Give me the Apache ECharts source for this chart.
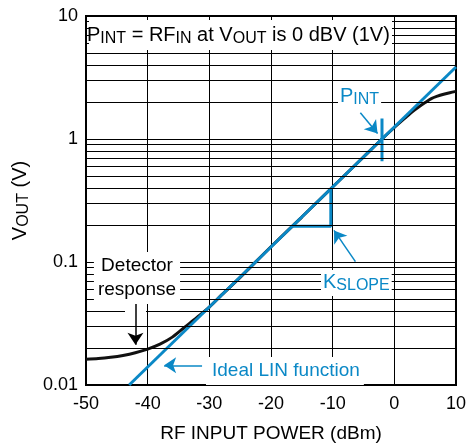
<!DOCTYPE html>
<html>
<head>
<meta charset="utf-8">
<script src="https://cdn.jsdelivr.net/npm/echarts@6/dist/echarts.min.js"></script>
<style>
  html, body { margin: 0; padding: 0; background: #fff; }
  #chart { width: 469px; height: 448px; }
</style>
</head>
<body>
<div id="chart"></div>
<script>
// 数据
const xTicks = [-50, -40, -30, -20, -10, 0, 10];
const yTicks = [0.01, 0.1, 1, 10];
const minorGrid = [0.02, 0.03, 0.04, 0.05, 0.06, 0.07, 0.08, 0.09,
  0.2, 0.3, 0.4, 0.5, 0.6, 0.7, 0.8, 0.9,
  2, 3, 4, 5, 6, 7, 8, 9];
// detector response (black curve)
const detX = [-50, -48, -46, -44, -42, -40, -38, -36, -34, -32, -30, -28, -25, -20, -15, -10, -5, -2, 0, 2, 3, 4, 5, 6, 7, 8, 9, 10];
const detY = [0.0162, 0.0164, 0.0168, 0.0174, 0.0183, 0.0196, 0.0215, 0.0245, 0.0295, 0.0355, 0.043, 0.054, 0.075, 0.133, 0.232, 0.407, 0.714, 1.0, 1.24, 1.52, 1.68, 1.83, 1.98, 2.13, 2.23, 2.31, 2.38, 2.44];
// ideal LIN function (blue straight line)
const idealX = [-43, 10];
const idealY = [0.01, 3.85];
// PINT marker and KSLOPE triangle
const pintX = [-2, -2];
const pintY = [0.66, 1.47];
const slopeX = [-16.5, -10.3, -10.3];
const slopeY = [0.195, 0.195, 0.394];

const BLUE = "#0a88c6";
const FONT = "Liberation Sans";

const zip = (xs, ys) => xs.map((x, i) => [x, ys[i]]);

const myChart = echarts.init(document.getElementById("chart"));

const subRich = (color) => ({
  m: { fontSize: 20, lineHeight: 24, fontFamily: FONT, fill: color, color: color },
  s: { fontSize: 16, lineHeight: 16, verticalAlign: "bottom", fontFamily: FONT, fill: color, color: color },
});

// 箭头 helper
const arrow = (from, to, color) => [
  { coord: from, lineStyle: { color: color, width: 1.5 }, itemStyle: { color: color } },
  { coord: to },
];

const option = {
  animation: false,
  backgroundColor: "#fff",
  grid: {
    left: 86, right: 9, top: 16, bottom: 58,
    show: true, borderColor: "#000", borderWidth: 2,
  },
  xAxis: {
    type: "value",
    min: -50, max: 10, interval: 10,
    name: "RF INPUT POWER (dBm)",
    nameLocation: "middle",
    nameGap: 39,
    nameTextStyle: { fontSize: 19, color: "#000", fontFamily: FONT },
    axisLine: { onZero: false, lineStyle: { color: "#000", width: 2 } },
    axisTick: { show: false },
    axisLabel: { fontSize: 18, color: "#000", fontFamily: FONT, margin: 10 },
    splitLine: { show: true, lineStyle: { color: "#000", width: 1 } },
  },
  yAxis: {
    type: "log",
    logBase: 10,
    min: yTicks[0], max: yTicks[yTicks.length - 1],
    name: "{m|V}{s|OUT}{m| (V)}",
    nameLocation: "middle",
    nameRotate: 90,
    nameGap: 52,
    nameTextStyle: { rich: subRich("#000") },
    axisLine: { show: true, onZero: false, lineStyle: { color: "#000", width: 2 } },
    axisTick: { show: false },
    axisLabel: {
      fontSize: 18, color: "#000", fontFamily: FONT, margin: 8,
      formatter: (v) => String(v),
    },
    splitLine: { show: true, lineStyle: { color: "#000", width: 1 } },
  },
  series: [
    {
      // minor log grid lines
      name: "minor",
      type: "line",
      data: [],
      z: 1,
      silent: true,
      markLine: {
        silent: true,
        symbol: "none",
        label: { show: false },
        lineStyle: { color: "#000", width: 1, type: "solid" },
        data: minorGrid.map((v) => ({ yAxis: v })),
      },
    },
    {
      // white gap under the detector arrow shaft
      name: "gap",
      type: "line",
      data: [],
      z: 2,
      markLine: {
        silent: true,
        symbol: "none",
        label: { show: false },
        lineStyle: { color: "#fff", width: 21, type: "solid" },
        data: [[{ coord: [-41.98, 0.051] }, { coord: [-41.98, 0.0305] }]],
      },
    },
    {
      name: "Detector response",
      type: "line",
      data: zip(detX, detY),
      smooth: 0.3,
      symbol: "none",
      z: 3,
      lineStyle: { color: "#111", width: 3 },
    },
    {
      name: "Ideal LIN function",
      type: "line",
      data: zip(idealX, idealY),
      symbol: "none",
      z: 4,
      lineStyle: { color: BLUE, width: 3 },
    },
    {
      name: "PINT",
      type: "line",
      data: zip(pintX, pintY),
      symbol: "none",
      z: 4,
      lineStyle: { color: BLUE, width: 3 },
    },
    {
      name: "KSLOPE",
      type: "line",
      data: zip(slopeX, slopeY),
      symbol: "none",
      z: 4,
      lineStyle: { color: BLUE, width: 3 },
      markLine: {
        silent: true,
        symbol: ["none", "arrow"],
        symbolSize: 12,
        label: { show: false },
        lineStyle: { type: "solid" },
        data: [
          arrow([-5.51, 1.636], [-2.72, 1.11], BLUE),
          arrow([-6.31, 0.1007], [-9.78, 0.1807], BLUE),
          arrow([-31.18, 0.01447], [-37.33, 0.01447], BLUE),
          arrow([-41.98, 0.0499], [-41.98, 0.0212], "#000"),
        ],
      },
    },
  ],
  graphic: [
    // title box
    { type: "rect", z: 10, shape: { x: 89, y: 20, width: 303, height: 30 }, style: { fill: "#fff" } },
    {
      type: "text", z: 11, x: 87, y: 23,
      style: {
        text: "{m|P}{s|INT}{m| = RF}{s|IN}{m| at V}{s|OUT}{m| is 0 dBV (1V)}",
        rich: subRich("#000"),
      },
    },
    // PINT label
    {
      type: "text", z: 11, x: 338, y: 84,
      style: {
        text: "{m|P}{s|INT}",
        rich: subRich(BLUE),
        backgroundColor: "#fff", padding: [0, 2, 0, 2],
      },
    },
    // KSLOPE label
    {
      type: "text", z: 11, x: 321, y: 270,
      style: {
        text: "{m|K}{s|SLOPE}",
        rich: subRich(BLUE),
        backgroundColor: "#fff", padding: [0, 2, 2, 2],
      },
    },
    // Detector response
    {
      type: "text", z: 11, x: 137, y: 252,
      style: {
        text: "Detector\nresponse",
        font: "19px " + FONT,
        fill: "#000",
        align: "center",
        lineHeight: 24,
        backgroundColor: "#fff", padding: [2, 4, 2, 4],
      },
    },
    // Ideal LIN function
    {
      type: "text", z: 11, x: 206, y: 357,
      style: {
        text: "Ideal LIN function",
        font: "19px " + FONT,
        fill: BLUE,
        lineHeight: 24,
        backgroundColor: "#fff", padding: [2, 4, 2, 6],
      },
    },
  ],
};

myChart.setOption(option);
</script>
</body>
</html>
